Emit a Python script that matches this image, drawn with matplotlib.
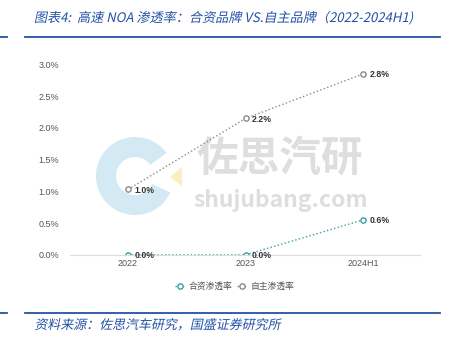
import matplotlib.pyplot as plt
from matplotlib.patches import Wedge, Polygon, PathPatch
from matplotlib.textpath import TextPath
from matplotlib.font_manager import FontProperties
from matplotlib.transforms import Affine2D

plt.rcParams['font.family'] = ['Liberation Sans', 'Noto Sans CJK SC', 'DejaVu Sans']

categories = ["2022", "2023", "2024H1"]
jv_rate = [0.0, 0.0, 0.55]         # 合资渗透率 (%)
own_rate = [1.03, 2.15, 2.85]      # 自主渗透率 (%)
jv_labels = ["0.0%", "0.0%", "0.6%"]
own_labels = ["1.0%", "2.2%", "2.8%"]
yticks = [0.0, 0.5, 1.0, 1.5, 2.0, 2.5, 3.0]

TITLE = "图表4:  高速 NOA 渗透率：合资品牌 VS.自主品牌（2022-2024H1)"
SOURCE = "资料来源：佐思汽车研究，国盛证券研究所"

TITLE_BLUE = "#2352a6"
TEAL = "#3a9fa8"
GREY = "#8a8a8a"
DPI = 100

fig = plt.figure(figsize=(4.5, 3.43), dpi=DPI)
H = 343


def slanted_text(s, x_px, y_top_px, width_px, color):
    # 中文字体没有斜体，用斜切变换模拟
    prop = FontProperties(family="Noto Sans CJK SC")
    tp = TextPath((0, 0), s, size=10, prop=prop)
    ext = tp.get_extents()
    k = width_px / ext.width
    tr = (Affine2D().translate(-ext.x0, 0).skew_deg(12, 0).scale(k)
          .translate(x_px, H - y_top_px))
    fig.add_artist(PathPatch(tp, transform=tr, color=color, lw=0))


slanted_text(TITLE, 35, 22, 377, TITLE_BLUE)
slanted_text(SOURCE, 35, 329, 245, TITLE_BLUE)

for yy in [37, 313]:
    fig.add_artist(plt.Line2D([25 / 450, 440 / 450], [1 - yy / H] * 2,
                              color=TITLE_BLUE, lw=1.3))
    fig.add_artist(plt.Line2D([0, 7 / 450], [1 - yy / H] * 2,
                              color=TITLE_BLUE, lw=1.3))

# 水印
wm = fig.add_axes([0.0, 0.0, 1.0, 1.0], zorder=-1)
wm.set_xlim(0, 450)
wm.set_ylim(H, 0)
wm.axis("off")
wm.add_patch(Wedge((135, 176), 39, 25, 324, width=20, color="#d3e9f4", lw=0))
wm.add_patch(Polygon([(170, 177), (182, 167), (182, 186)], color="#fbefbf", lw=0))
wm.text(196, 159, "佐思汽研", fontsize=30, color="#dedede", va="center", ha="left",
        fontweight="bold", family="Noto Sans CJK SC")
wm.text(193, 200, "shujubang.com", fontsize=16.5, color="#dedede", va="center",
        ha="left", fontweight="bold", family="Noto Sans CJK SC")

ax = fig.add_axes([70 / 450, 0.257, 350 / 450, 0.555])
ax.patch.set_alpha(0)
x = list(range(len(categories)))

ax.plot(x, jv_rate, color=TEAL, ls=":", lw=1.0, marker="o", ms=3.8,
        mfc="white", mec=TEAL, mew=1.0, label="合资渗透率")
ax.plot(x, own_rate, color=GREY, ls=":", lw=1.0, marker="o", ms=3.8,
        mfc="white", mec=GREY, mew=1.0, label="自主渗透率")

for vals, labels in [(jv_rate, jv_labels), (own_rate, own_labels)]:
    for xi, v, s in zip(x, vals, labels):
        ax.annotate(s, (xi, v), xytext=(4.5, -0.5), textcoords="offset points",
                    fontsize=6.3, fontweight="bold", color="#333333",
                    va="center", ha="left")

ax.set_xlim(-0.494, 2.485)
ax.set_ylim(0, 3.0)
ax.set_xticks(x)
ax.set_xticklabels(categories)
ax.set_yticks(yticks)
ax.set_yticklabels([f"{t:.1f}%" for t in yticks])
ax.tick_params(axis="both", length=0, labelsize=6.5, labelcolor="#555555")
ax.tick_params(axis="y", pad=8)
ax.tick_params(axis="x", pad=3)
for side in ["top", "right", "left"]:
    ax.spines[side].set_visible(False)
ax.spines["bottom"].set_color("#dddddd")
ax.spines["bottom"].set_linewidth(0.8)

ax.legend(loc="upper center", bbox_to_anchor=(0.47, -0.1), ncol=2, frameon=False,
          prop={"family": "Noto Sans CJK SC", "size": 6.3}, handlelength=1.3,
          handletextpad=0.3, columnspacing=0.5, labelcolor="#555555")

fig.savefig("out.png", dpi=DPI)
